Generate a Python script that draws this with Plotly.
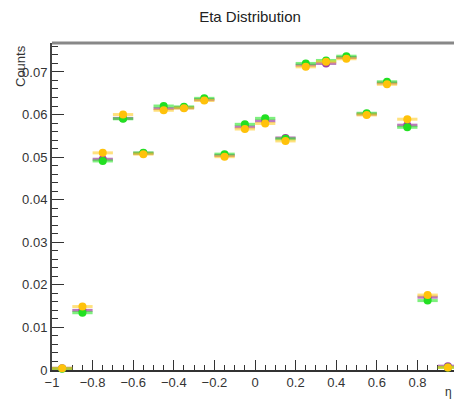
import plotly.graph_objects as go

bin_centers = [-0.95, -0.85, -0.75, -0.65, -0.55, -0.45, -0.35, -0.25, -0.15, -0.05,
               0.05, 0.15, 0.25, 0.35, 0.45, 0.55, 0.65, 0.75, 0.85, 0.95]
bin_half_width = [0.05] * 20

purple_vals = [0.0004, 0.0140, 0.0495, 0.0591, 0.0509, 0.0614, 0.0616, 0.0635, 0.0504, 0.0571,
               0.0585, 0.0545, 0.0716, 0.0720, 0.0734, 0.0601, 0.0674, 0.0575, 0.0171, 0.0009]
green_vals = [0.0003, 0.01345, 0.0491, 0.0590, 0.0510, 0.0620, 0.0618, 0.0638, 0.0507, 0.0577,
              0.0591, 0.0543, 0.0720, 0.0727, 0.0737, 0.0603, 0.0677, 0.0570, 0.0163, 0.0006]
orange_vals = [0.0004, 0.0149, 0.0510, 0.0600, 0.0507, 0.0610, 0.0615, 0.0633, 0.0501, 0.0566,
               0.0579, 0.0538, 0.0712, 0.0724, 0.0731, 0.0599, 0.0671, 0.0589, 0.0176, 0.0006]

series = [
    ("purple", purple_vals, "#a23ca6", "rgba(150,50,150,0.65)"),
    ("green", green_vals, "#22e022", "rgba(40,230,40,0.6)"),
    ("orange", orange_vals, "#ffc20a", "rgba(255,200,20,0.55)"),
]

fig = go.Figure()
for name, vals, mcol, lcol in series:
    fig.add_trace(go.Scatter(
        x=bin_centers, y=vals, mode="markers", name=name,
        marker=dict(symbol="circle", size=8, color=mcol),
        error_x=dict(type="data", array=bin_half_width, color=lcol, thickness=3, width=0),
        showlegend=False, cliponaxis=False,
    ))

font_family = "Liberation Sans, Arial, sans-serif"
fig.update_layout(
    width=454, height=400,
    margin=dict(l=52, r=0, t=43, b=30),
    paper_bgcolor="white", plot_bgcolor="white",
    font=dict(family=font_family, size=13, color="#333"),
    title=dict(text="Eta Distribution", x=250/454, xanchor="center", y=1-17/400, yanchor="middle",
               font=dict(size=15, color="#222", family=font_family)),
    xaxis=dict(range=[-1, 0.98], showgrid=False, zeroline=False, showline=True,
               linecolor="#333", linewidth=1.5, ticks="inside", ticklen=10, tickwidth=1,
               tickcolor="#333", dtick=0.2, tick0=0, tickformat="~g", layer="below traces",
               minor=dict(dtick=0.05, ticks="inside", ticklen=5, tickcolor="#333")),
    yaxis=dict(range=[0, 0.0768], showgrid=False, zeroline=False, showline=True,
               linecolor="#444", linewidth=2, ticks="inside", ticklen=12, tickwidth=1,
               tickcolor="#333", dtick=0.01, tick0=0, layer="below traces",
               minor=dict(dtick=0.002, ticks="inside", ticklen=6, tickcolor="#333")),
    shapes=[dict(type="line", xref="paper", yref="paper", x0=0, x1=1, y0=1, y1=1,
                 line=dict(color="#888", width=3))],
    annotations=[
        dict(text="Counts", xref="paper", yref="paper", x=(20-52)/402, y=1.0,
             xanchor="center", yanchor="top", textangle=-90, showarrow=False,
             font=dict(size=13, color="#333")),
        dict(text="η", xref="paper", yref="paper", x=1.0, y=(370-392)/327,
             xanchor="right", yanchor="middle", showarrow=False,
             font=dict(size=12, color="#333")),
    ],
)

fig.write_html("out.html")
